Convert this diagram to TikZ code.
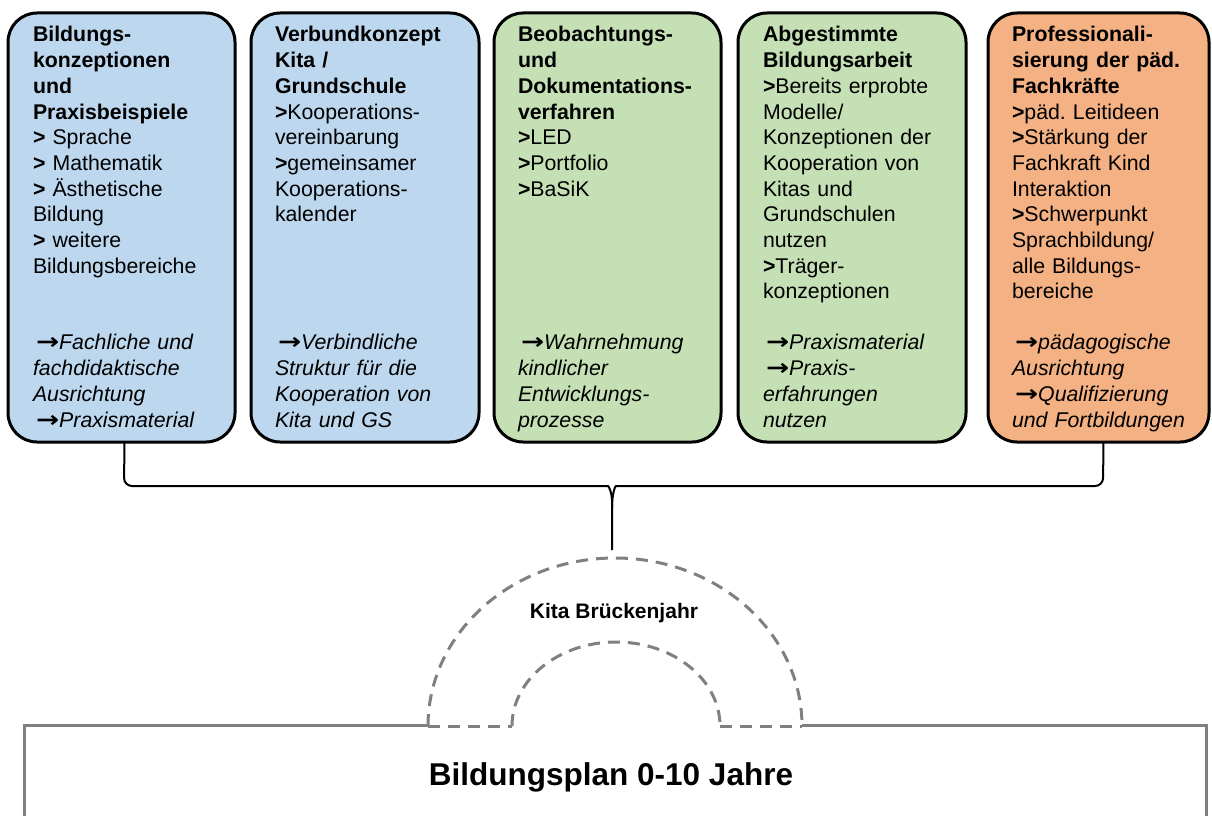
\documentclass[tikz,border=0pt]{standalone}
\usepackage{fontspec}
\setmainfont{Liberation Sans}
\newfontfamily\arrfont{DejaVu Sans}
\definecolor{boxblue}{HTML}{BDD7EE}
\definecolor{boxgreen}{HTML}{C5E0B4}
\definecolor{boxorange}{HTML}{F4B183}
\definecolor{linegray}{HTML}{808080}
\newcommand{\arr}{{\arrfont\bfseries\upshape\scalebox{1.3}[1.05]{→}}}
\frenchspacing
\begin{document}
\begin{tikzpicture}[x=1bp,y=-1bp,
  box/.style={draw=black, line width=3bp, rounded corners=29bp, anchor=north west,
    minimum height=429bp, inner sep=0pt, outer sep=0pt},
  txt/.style={anchor=north west, inner sep=0pt, outer sep=0pt, text width=215bp, align=left,
    font=\fontsize{21.3bp}{25.7bp}\selectfont},
  itxt/.style={txt, font=\fontsize{21.3bp}{25.7bp}\selectfont\itshape},
  brace/.style={draw=black, line width=2bp},
  grayline/.style={draw=linegray, line width=3bp},
  graydash/.style={draw=linegray, line width=3bp, dash pattern=on 12bp off 8bp},
]
\useasboundingbox[fill=white] (0,0) rectangle (1212,816);

% boxes
\node[box, fill=boxblue,   minimum width=227bp] (b1) at (8,13) {};
\node[box, fill=boxblue,   minimum width=228bp] (b2) at (251,13) {};
\node[box, fill=boxgreen,  minimum width=227bp] (b3) at (494,13) {};
\node[box, fill=boxgreen,  minimum width=228bp] (b4) at (738,13) {};
\node[box, fill=boxorange, minimum width=221bp] (b5) at (988,13) {};

% box texts
\node[txt] (b1t) at (33,24) {\strut\textbf{Bildungs-}\\\textbf{konzeptionen}\\\textbf{und}\\\textbf{Praxisbeispiele}\\\textbf{>} Sprache\\\textbf{>} Mathematik\\\textbf{>} Ästhetische\\Bildung\\\textbf{>} weitere\\Bildungsbereiche};
\node[itxt] (b1i) at (33,332) {\strut\hspace{3bp}\arr Fachliche und\\fachdidaktische\\Ausrichtung\\\hspace{3bp}\arr Praxismaterial};

\node[txt] (b2t) at (275,24) {\strut\textbf{Verbundkonzept}\\\textbf{Kita /}\\\textbf{Grundschule}\\\textbf{>}Kooperations-\\vereinbarung\\\textbf{>}gemeinsamer\\Kooperations-\\kalender};
\node[itxt] (b2i) at (275,332) {\strut\hspace{3bp}\arr Verbindliche\\Struktur für die\\Kooperation von\\Kita und GS};

\node[txt] (b3t) at (518,24) {\strut\textbf{Beobachtungs-}\\\textbf{und}\\\textbf{Dokumentations-}\\\textbf{verfahren}\\\textbf{>}LED\\\textbf{>}Portfolio\\\textbf{>}BaSiK};
\node[itxt] (b3i) at (518,332) {\strut\hspace{3bp}\arr Wahrnehmung\\kindlicher\\Entwicklungs-\\prozesse};

\node[txt] (b4t) at (763,24) {\strut\textbf{Abgestimmte}\\\textbf{Bildungsarbeit}\\\textbf{>}Bereits erprobte\\Modelle/\\Konzeptionen der\\Kooperation von\\Kitas und\\Grundschulen\\nutzen\\\textbf{>}Träger-\\konzeptionen};
\node[itxt] (b4i) at (763,332) {\strut\hspace{3bp}\arr Praxismaterial\\\hspace{3bp}\arr Praxis-\\erfahrungen\\nutzen};

\node[txt] (b5t) at (1012,24) {\strut\textbf{Professionali-}\\\textbf{sierung der päd.}\\\textbf{Fachkräfte}\\\textbf{>}päd. Leitideen\\\textbf{>}Stärkung der\\Fachkraft Kind\\Interaktion\\\textbf{>}Schwerpunkt\\Sprachbildung/\\alle Bildungs-\\bereiche};
\node[itxt] (b5i) at (1012,332) {\strut\hspace{3bp}\arr pädagogische\\Ausrichtung\\\hspace{3bp}\arr Qualifizierung\\und Fortbildungen};

% brace
\coordinate (tip) at (612,550);
\coordinate (mid) at (612,508);
\draw[brace, rounded corners=8bp] ([xshift=3bp]b1.south) -- (124,486) -- (600,486)
  .. controls (609,486) and (612,494) .. (mid) -- (tip);
\draw[brace, rounded corners=8bp] ([xshift=5bp]b5.south) -- (1103,486) -- (624,486)
  .. controls (615,486) and (612,494) .. (mid);

% base rectangle outline
\draw[grayline] (428,725) -- (24,725) -- (24,822);
\draw[grayline] (802,725) -- (1206,725) -- (1206,822);

% dashed arches
\draw[graydash] (428,726) arc[start angle=180, end angle=0, x radius=187bp, y radius=168bp];
\draw[graydash] (512,726) arc[start angle=180, end angle=0, x radius=104bp, y radius=84bp];
\draw[graydash] (428,726) -- (512,726);
\draw[graydash] (720,726) -- (802,726);

% labels
\node[anchor=base, inner sep=0pt, font=\fontsize{21bp}{25bp}\selectfont\bfseries] (kita) at (614,618) {Kita Brückenjahr};
\node[anchor=base, inner sep=0pt, font=\fontsize{31.5bp}{36bp}\selectfont\bfseries] (plan) at (611,785) {Bildungsplan 0-10 Jahre};
\end{tikzpicture}
\end{document}
